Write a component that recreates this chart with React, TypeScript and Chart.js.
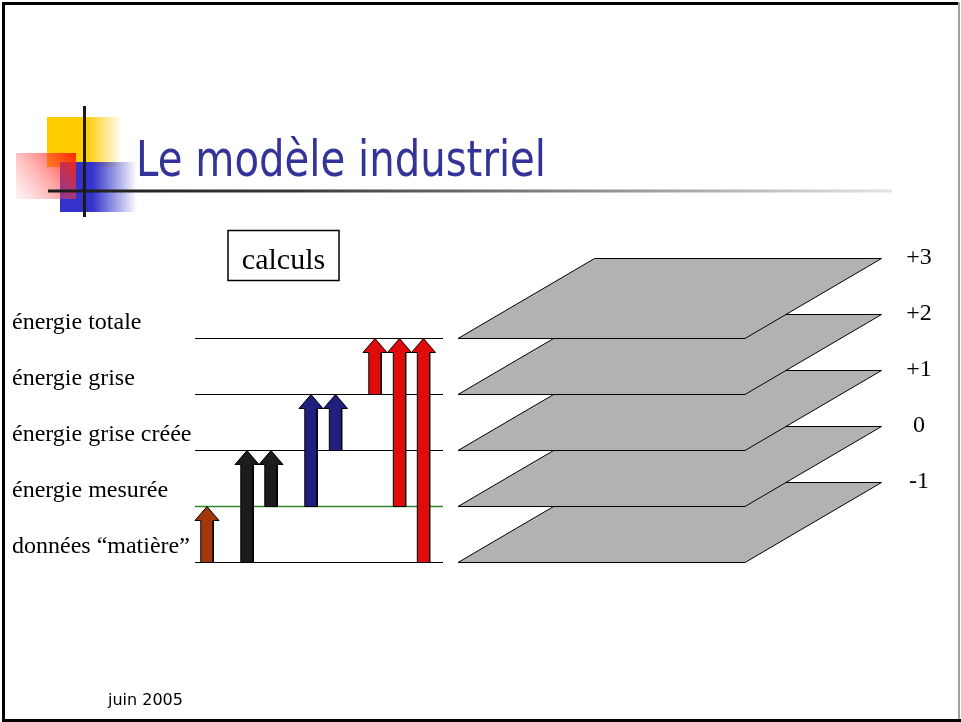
import React, { useEffect, useRef } from "react";
import { Chart, registerables } from "chart.js";

Chart.register(...registerables);

// ---- data ----
const levelNames = [
  "données “matière”",
  "énergie mesurée",
  "énergie grise créée",
  "énergie grise",
  "énergie totale",
];
const levelValues = [0, 1, 2, 3, 4];
const levelColors = ["#000000", "#2f8a2f", "#000000", "#000000", "#000000"];

const planeLevels = [0, 1, 2, 3, 4];
const planeLabels = ["-1", "0", "+1", "+2", "+3"];

const arrowX = [207, 247, 271, 311, 335.5, 375, 399.5, 423.5];
const arrowFrom = [0, 0, 1, 1, 2, 3, 1, 0];
const arrowTo = [1, 2, 2, 3, 3, 4, 4, 4];
const arrowColors = [
  "#a0380b",
  "#1c1c1c",
  "#1c1c1c",
  "#1f1f80",
  "#1f1f80",
  "#e00b0b",
  "#e00b0b",
  "#e00b0b",
];

const titleText = "Le modèle industriel";
const boxText = "calculs";
const footerText = "juin 2005";

// ---- geometry (scale units) ----
const W = 961;
const H = 722;
const PX_PER_LEVEL = 56;
const Y_MAX = 562.5 / PX_PER_LEVEL;
const Y_MIN = Y_MAX - H / PX_PER_LEVEL;
const LINE_X0 = 195;
const LINE_X1 = 443;
const PLANE_X0 = 458;
const PLANE_X1 = 745;
const PLANE_SHIFT = 136.5;
const PLANE_DEPTH = 80 / PX_PER_LEVEL;
const SHAFT_HALF = 6.2;
const HEAD_HALF = 12;
const HEAD_LEN = 14 / PX_PER_LEVEL;
const LABEL_X = 12;
const PLANE_LABEL_X = 919;
const BOX_X = 283.5;
const BOX_LEVEL = (562 - 255) / PX_PER_LEVEL;

function buildDatasets() {
  const list: any[] = [];
  // planes, back to front (bottom first)
  planeLevels.forEach((lv) => {
    list.push({
      data: [
        { x: PLANE_X0, y: lv },
        { x: PLANE_X1, y: lv },
        { x: PLANE_X1 + PLANE_SHIFT, y: lv + PLANE_DEPTH },
        { x: PLANE_X0 + PLANE_SHIFT, y: lv + PLANE_DEPTH },
        { x: PLANE_X0, y: lv },
      ],
      showLine: true,
      fill: "shape",
      backgroundColor: "#b2b2b2",
      borderColor: "#000000",
      borderWidth: 1,
      pointRadius: 0,
      tension: 0,
    });
  });
  // level lines
  levelValues.forEach((lv, i) => {
    list.push({
      data: [
        { x: LINE_X0, y: lv },
        { x: LINE_X1, y: lv },
      ],
      showLine: true,
      fill: false,
      borderColor: levelColors[i],
      borderWidth: i === 1 ? 1.4 : 1,
      pointRadius: 0,
    });
  });
  // arrows
  arrowX.forEach((x, i) => {
    const a = arrowFrom[i];
    const b = arrowTo[i];
    const hb = b - HEAD_LEN;
    list.push({
      data: [
        { x: x - SHAFT_HALF, y: a },
        { x: x - SHAFT_HALF, y: hb },
        { x: x - HEAD_HALF, y: hb },
        { x: x, y: b },
        { x: x + HEAD_HALF, y: hb },
        { x: x + SHAFT_HALF, y: hb },
        { x: x + SHAFT_HALF, y: a },
        { x: x - SHAFT_HALF, y: a },
      ],
      showLine: true,
      fill: "shape",
      backgroundColor: arrowColors[i],
      borderColor: "#000000",
      borderWidth: 1,
      pointRadius: 0,
      tension: 0,
    });
  });
  const n = list.length;
  list.forEach((d, i) => (d.order = n - i));
  return list;
}

const slidePlugin = {
  id: "slide",
  beforeDatasetsDraw(chart: any) {
    const ctx = chart.ctx as CanvasRenderingContext2D;
    ctx.save();
    // logo squares
    let g = ctx.createLinearGradient(47, 0, 122, 0);
    g.addColorStop(0, "#ffcc00");
    g.addColorStop(0.52, "#ffcc00");
    g.addColorStop(1, "rgba(255,204,0,0)");
    ctx.fillStyle = g;
    ctx.fillRect(47, 117, 75, 50);

    g = ctx.createLinearGradient(60, 0, 137, 0);
    g.addColorStop(0, "#3333cc");
    g.addColorStop(0.42, "#3333cc");
    g.addColorStop(1, "rgba(51,51,204,0)");
    ctx.fillStyle = g;
    ctx.fillRect(60, 162, 77, 50);

    g = ctx.createLinearGradient(78, 152, 14, 200);
    g.addColorStop(0, "rgba(255,30,0,1)");
    g.addColorStop(0.45, "rgba(255,60,60,0.5)");
    g.addColorStop(1, "rgba(255,120,120,0.05)");
    ctx.fillStyle = g;
    ctx.fillRect(16, 153, 60, 46);

    // horizontal gradient rule
    g = ctx.createLinearGradient(48, 0, 892, 0);
    g.addColorStop(0, "#1a1a1a");
    g.addColorStop(0.3, "#3a3a3a");
    g.addColorStop(1, "#e4e4e4");
    ctx.fillStyle = g;
    ctx.fillRect(48, 189.5, 844, 3);

    // vertical rule
    ctx.fillStyle = "#1a1a1a";
    ctx.fillRect(83, 106, 3, 111);

    // title
    ctx.font = '48px "DejaVu Sans"';
    ctx.fillStyle = "#333399";
    ctx.textBaseline = "alphabetic";
    ctx.textAlign = "left";
    const tw = ctx.measureText(titleText).width;
    ctx.save();
    ctx.translate(136, 176);
    ctx.scale(410 / tw, 1.04);
    ctx.fillText(titleText, 0, 0);
    ctx.restore();

    // footer
    ctx.font = '16px "DejaVu Sans"';
    ctx.fillStyle = "#000000";
    ctx.fillText(footerText, 108, 705);

    // slide border
    ctx.fillStyle = "#000000";
    ctx.fillRect(2, 2, 957, 3);
    ctx.fillRect(2, 2, 3, 720);
    ctx.fillRect(2, 719, 959, 3);
    ctx.fillStyle = "#a0a0a0";
    ctx.fillRect(958, 2, 2, 717);
    ctx.restore();
  },
  afterDatasetsDraw(chart: any) {
    const ctx = chart.ctx as CanvasRenderingContext2D;
    const xs = chart.scales.x;
    const ys = chart.scales.y;
    ctx.save();
    ctx.fillStyle = "#000000";
    ctx.font = '24px "Liberation Serif"';
    ctx.textAlign = "left";
    ctx.textBaseline = "alphabetic";
    levelNames.forEach((name, i) => {
      ctx.fillText(name, xs.getPixelForValue(LABEL_X), ys.getPixelForValue(levelValues[i]) - 9.5);
    });
    ctx.textAlign = "center";
    ctx.textBaseline = "middle";
    planeLabels.forEach((lab, i) => {
      ctx.fillText(lab, xs.getPixelForValue(PLANE_LABEL_X), ys.getPixelForValue(planeLevels[i] + PLANE_DEPTH) - 1);
    });
    // calculs box
    const cx = xs.getPixelForValue(BOX_X);
    const cy = ys.getPixelForValue(BOX_LEVEL);
    ctx.strokeStyle = "#000000";
    ctx.lineWidth = 1.5;
    ctx.strokeRect(cx - 55.5, cy - 25, 111, 50);
    ctx.font = '30px "Liberation Serif"';
    ctx.textBaseline = "alphabetic";
    ctx.fillText(boxText, cx, cy + 13);
    ctx.restore();
  },
};

export default function App() {
  const ref = useRef<HTMLCanvasElement | null>(null);
  useEffect(() => {
    document.body.style.margin = "0";
    const canvas = ref.current;
    if (!canvas) return;
    const chart = new Chart(canvas, {
      type: "scatter",
      data: { datasets: buildDatasets() },
      options: {
        animation: false,
        responsive: false,
        devicePixelRatio: 1,
        layout: { padding: 0 },
        plugins: {
          legend: { display: false },
          tooltip: { enabled: false },
        },
        scales: {
          x: { type: "linear", min: 0, max: W, display: false },
          y: { type: "linear", min: Y_MIN, max: Y_MAX, display: false },
        },
      },
      plugins: [slidePlugin],
    });
    return () => chart.destroy();
  }, []);
  return (
    <div style={{ width: W, height: H, background: "#ffffff" }}>
      <canvas ref={ref} width={W} height={H} style={{ display: "block" }} />
    </div>
  );
}
